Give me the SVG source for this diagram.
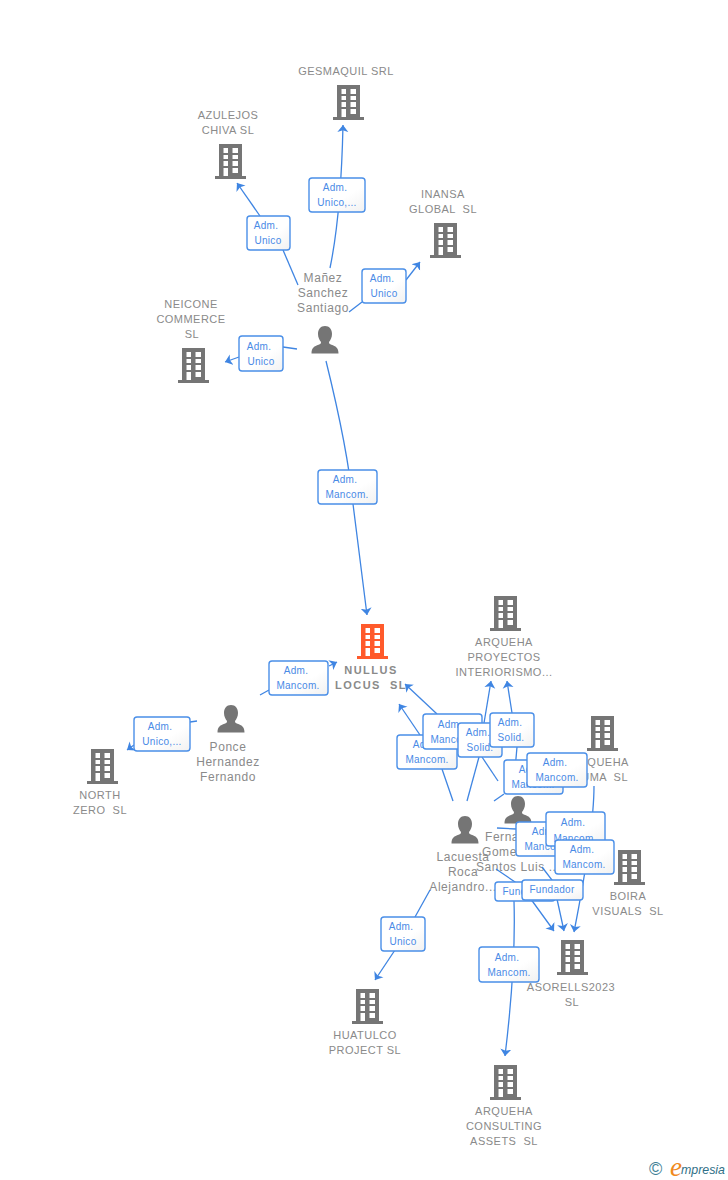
<svg xmlns="http://www.w3.org/2000/svg" width="728" height="1180" viewBox="0 0 728 1180">
<style>
text{font-family:"Liberation Sans",Arial,sans-serif;white-space:pre}
.n{font-size:11px;fill:#8a8a8a;text-anchor:middle;letter-spacing:.48px}
.p{font-size:12px;fill:#8a8a8a;text-anchor:middle;letter-spacing:.55px}
.c{fill:none;stroke:#3f85e2;stroke-width:1.3}
.a{marker-end:url(#arr)}
.b{fill:url(#g);stroke:#4a8fe8;stroke-width:1.4}
.t{font-size:10px;fill:#4a8ae6;text-anchor:middle;letter-spacing:.3px}
</style>
<defs>
<marker id="arr" markerUnits="userSpaceOnUse" markerWidth="12" markerHeight="12" refX="7" refY="6" orient="auto"><path d="M7 6L0 0.5L1.8 6L0 11.500Z" fill="#3f85e2"/></marker>
<linearGradient id="g" x1="0" y1="0" x2="1" y2="1"><stop offset="0" stop-color="#fff"/><stop offset=".6" stop-color="#fff"/><stop offset="1" stop-color="#f1f1f1"/></linearGradient>
<path id="bld" fill-rule="evenodd" d="M4 0H27V32H31V35H0V32H4ZM8.500 4V9H13V4ZM17.500 4V9H23V4ZM8.500 11V15H13V11ZM17.500 11V15H23V11ZM8.500 17V22H13V17ZM17.500 17V22H23V17ZM8.500 24V32H13V24ZM17.500 24V29H23V24Z"/>
<path id="per" d="M13.5 0C18 0 20.500 3.500 20.500 8C20.500 11.500 19 14 17.500 16C17.500 17.500 18 18 20 18.800C24 20.300 27 21.500 27 27.500H0C0 21.500 3 20.300 7 18.800C9 18 9.500 17.500 9.500 16C8 14 6.500 11.500 6.500 8C6.500 3.500 9 0 13.500 0Z"/>
</defs>
<rect width="728" height="1180" fill="#fff"/>
<g id="nodes" fill="#757575">
<g id="n-gesmaquil"><use href="#bld" x="333" y="85"/><text class="n" x="346" y="75">GESMAQUIL SRL</text></g>
<g id="n-azulejos"><use href="#bld" x="215" y="144"/><text class="n" x="228" y="119">AZULEJOS</text><text class="n" x="228" y="134">CHIVA SL</text></g>
<g id="n-inansa"><use href="#bld" x="430" y="223"/><text class="n" x="443" y="198">INANSA</text><text class="n" x="443" y="213">GLOBAL  SL</text></g>
<g id="n-neicone"><use href="#bld" x="178" y="348"/><text class="n" x="191" y="308">NEICONE</text><text class="n" x="191" y="323">COMMERCE</text><text class="n" x="192" y="338">SL</text></g>
<g id="n-manez"><use href="#per" x="311.500" y="326"/><text class="p" x="323" y="282">Mañez</text><text class="p" x="323" y="297">Sanchez</text><text class="p" x="323" y="312">Santiago</text></g>
<g id="n-nullus"><use href="#bld" x="357" y="624" fill="#ff5a2b"/><text class="n" x="371" y="674" style="font-weight:bold;letter-spacing:1.500px">NULLUS</text><text class="n" x="371" y="689" style="font-weight:bold;letter-spacing:1.500px">LOCUS  SL</text></g>
<g id="n-proyectos"><use href="#bld" x="490" y="596"/><text class="n" x="504" y="646">ARQUEHA</text><text class="n" x="504" y="661">PROYECTOS</text><text class="n" x="504" y="676">INTERIORISMO...</text></g>
<g id="n-ponce"><use href="#per" x="217.500" y="705"/><text class="p" x="228" y="751">Ponce</text><text class="p" x="228" y="766">Hernandez</text><text class="p" x="228" y="781">Fernando</text></g>
<g id="n-north"><use href="#bld" x="87" y="749"/><text class="n" x="100" y="799">NORTH</text><text class="n" x="100" y="814">ZERO  SL</text></g>
<g id="n-uma"><use href="#bld" x="587" y="716"/><text class="n" x="600" y="766">ARQUEHA</text><text class="n" x="628" y="781" style="text-anchor:end">UMA  SL</text></g>
<g id="n-fernandez"><use href="#per" x="504.500" y="796"/><text class="p" x="485" y="841" style="text-anchor:start">Fernandez</text><text class="p" x="482" y="856" style="text-anchor:start">Gomez</text><text class="p" x="476" y="871" style="text-anchor:start">Santos Luis ...</text></g>
<g id="n-lacuesta"><use href="#per" x="451.500" y="816"/><text class="p" x="463" y="861">Lacuesta</text><text class="p" x="463" y="876">Roca</text><text class="p" x="463" y="891">Alejandro...</text></g>
<g id="n-boira"><use href="#bld" x="614" y="850"/><text class="n" x="628" y="900">BOIRA</text><text class="n" x="628" y="915">VISUALS  SL</text></g>
<g id="n-asorells"><use href="#bld" x="557" y="940"/><text class="n" x="571" y="991">ASORELLS2023</text><text class="n" x="572" y="1006">SL</text></g>
<g id="n-huatulco"><use href="#bld" x="352" y="989"/><text class="n" x="365" y="1039">HUATULCO</text><text class="n" x="365" y="1054">PROJECT SL</text></g>
<g id="n-consulting"><use href="#bld" x="490" y="1065"/><text class="n" x="504" y="1115">ARQUEHA</text><text class="n" x="504" y="1130">CONSULTING</text><text class="n" x="504" y="1145">ASSETS  SL</text></g>
</g>
<g id="connectors">
<path class="c a" d="M330 268Q341 215 343 125"/>
<path class="c" d="M298 285L283 250"/><path class="c a" d="M260 216L237 183"/>
<path class="c" d="M349 312L362 302"/><path class="c a" d="M406 280L420 262"/>
<path class="c" d="M297 349L283 347"/><path class="c a" d="M239 357L225 362"/>
<path class="c a" d="M326 361Q348 450 353 504L367 615"/>
<path class="c" d="M260 695L269 690"/><path class="c a" d="M329 666L337 662"/>
<path class="c" d="M197 721L190 722"/><path class="c a" d="M134 745L127 750"/>
<path class="c" d="M453 801L442 769"/><path class="c a" d="M420 735L399 704"/>
<path class="c" d="M498 781L482 757"/><path class="c a" d="M437 714L405 684"/>
<path class="c" d="M467 801L479 757"/><path class="c a" d="M484 723L491 681"/>
<path class="c" d="M514 781L517 747"/><path class="c a" d="M512 713L507 681"/>
<path class="c" d="M494 801L504 794"/>
<path class="c a" d="M594 786Q594 830 574 932"/>
<path class="c" d="M497 828L516 829"/>
<path class="c a" d="M496 869L515 882L533 902L554 931"/>
<path class="c a" d="M542 867L552 880L557 899L564 931"/>
<path class="c a" d="M514 901Q516 965 505 1056"/>
<path class="c a" d="M430 890L405 935L375 980"/>
<g id="l1"><rect class="b" x="309" y="178" width="56" height="34" rx="3"/><text class="t" x="335" y="191">Adm.</text><text class="t" x="337" y="206">Unico,...</text></g>
<g id="l2"><rect class="b" x="247" y="216" width="43" height="34" rx="3"/><text class="t" x="266" y="229">Adm.</text><text class="t" x="268" y="244">Unico</text></g>
<g id="l3"><rect class="b" x="362" y="269" width="44" height="34" rx="3"/><text class="t" x="382" y="282">Adm.</text><text class="t" x="384" y="297">Unico</text></g>
<g id="l4"><rect class="b" x="239" y="336" width="44" height="35" rx="3"/><text class="t" x="259" y="350">Adm.</text><text class="t" x="261" y="365">Unico</text></g>
<g id="l5"><rect class="b" x="318" y="470" width="59" height="34" rx="3"/><text class="t" x="345" y="483">Adm.</text><text class="t" x="347" y="498">Mancom.</text></g>
<g id="l6"><rect class="b" x="269" y="661" width="59" height="34" rx="3"/><text class="t" x="296" y="674">Adm.</text><text class="t" x="298" y="689">Mancom.</text></g>
<g id="l7"><rect class="b" x="134" y="717" width="56" height="34" rx="3"/><text class="t" x="160" y="730">Adm.</text><text class="t" x="162" y="745">Unico,...</text></g>
<g id="l8"><rect class="b" x="397" y="735" width="60" height="34" rx="3"/><text class="t" x="425" y="748">Adm.</text><text class="t" x="427" y="763">Mancom.</text></g>
<g id="l9"><rect class="b" x="423" y="714" width="59" height="35" rx="3"/><text class="t" x="450" y="728">Adm.</text><text class="t" x="452" y="743">Mancom.</text></g>
<g id="l10"><rect class="b" x="458" y="723" width="44" height="34" rx="3"/><text class="t" x="478" y="736">Adm.</text><text class="t" x="480" y="751">Solid.</text></g>
<g id="l11"><rect class="b" x="490" y="713" width="44" height="34" rx="3"/><text class="t" x="510" y="726">Adm.</text><text class="t" x="511" y="741">Solid.</text></g>
<g id="l12"><rect class="b" x="504" y="760" width="59" height="34" rx="3"/><text class="t" x="531" y="773">Adm.</text><text class="t" x="533" y="788">Mancom.</text></g>
<g id="l13"><rect class="b" x="527" y="753" width="60" height="34" rx="3"/><text class="t" x="555" y="766">Adm.</text><text class="t" x="557" y="781">Mancom.</text></g>
<g id="l14"><rect class="b" x="516" y="822" width="60" height="34" rx="3"/><text class="t" x="544" y="835">Adm.</text><text class="t" x="546" y="850">Mancom.</text></g>
<g id="l15"><rect class="b" x="546" y="812" width="59" height="34" rx="3"/><text class="t" x="573" y="826">Adm.</text><text class="t" x="575" y="842">Mancom.</text></g>
<g id="l16"><rect class="b" x="555" y="840" width="59" height="34" rx="3"/><text class="t" x="582" y="853">Adm.</text><text class="t" x="584" y="868">Mancom.</text></g>
<g id="l17"><rect class="b" x="495" y="882" width="60" height="19" rx="3"/><text class="t" x="525" y="895">Fundador</text></g>
<g id="l18"><rect class="b" x="522" y="880" width="61" height="20" rx="3"/><text class="t" x="552" y="893">Fundador</text></g>
<g id="l19"><rect class="b" x="381" y="917" width="44" height="34" rx="3"/><text class="t" x="401" y="930">Adm.</text><text class="t" x="403" y="945">Unico</text></g>
<g id="l20"><rect class="b" x="479" y="947" width="60" height="35" rx="3"/><text class="t" x="507" y="961">Adm.</text><text class="t" x="509" y="976">Mancom.</text></g>
</g>
<g id="logo"><text x="649" y="1175" font-size="18" fill="#3f7f96">©</text><text x="670" y="1176" font-size="27" font-style="italic" style="font-family:'Liberation Serif',serif" fill="#f08a1d">e</text><text x="681" y="1174" font-size="13" font-style="italic" fill="#2f6f86" textLength="44" lengthAdjust="spacingAndGlyphs">mpresia</text></g>
</svg>
